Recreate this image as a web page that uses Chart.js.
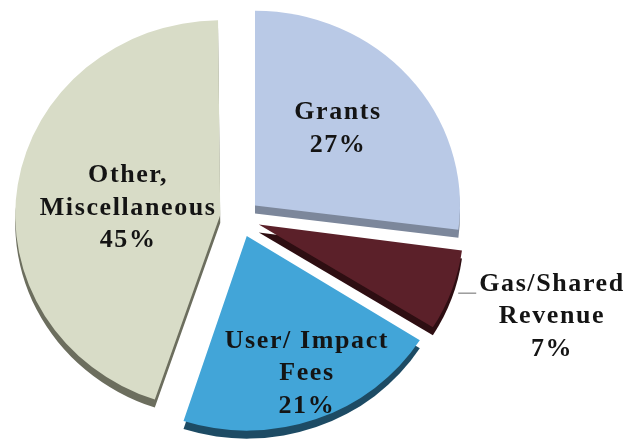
<!DOCTYPE html>
<html>
<head>
<meta charset="utf-8">
<script src="https://cdn.jsdelivr.net/npm/chart.js@4.4.1/dist/chart.umd.min.js"></script>
<style>
  html, body { margin: 0; padding: 0; background: #fff; }
  #wrap { width: 631px; height: 446px; position: relative; }
</style>
</head>
<body>
<div id="wrap"><canvas id="myChart"></canvas></div>
<script>
// slices, clockwise from 12 o'clock
const categories = ['Grants', 'Gas/Shared Revenue', 'User/ Impact Fees', 'Other, Miscellaneous'];
const shares = [27, 7, 21, 45];
const labelLines = [['Grants'], ['Gas/Shared', 'Revenue'], ['User/ Impact', 'Fees'], ['Other,', 'Miscellaneous']];

const topColors = ['#b9c9e6', '#5b2029', '#42a5d8', '#d8dcc7'];
const sideColors = ['#7c879b', '#2e0e12', '#1d4b64', '#6c6e5e'];

// label placement: fraction of radius along the slice middle, then a nudge
const labelFrac = [0.54, 1.52, 0.866, 0.455];
const labelNudge = [[0, -7], [0, -8], [0, -21], [0, 7]];

const RADIUS = 205;
const SQUASH = 0.95;   // tilt of the 3d pie
const DEPTH = 8;       // thickness in px
const EXPLODE = 80;    // chart.js divides arc offset by 4

function centre(chart) {
    const a = chart.chartArea;
    return [(a.left + a.right) / 2, (a.top + a.bottom) / 2];
}

const pie3d = {
    id: 'pie3d',
    afterDatasetUpdate(chart) {
        // arcs narrower than 180deg get their radius pushed out by the offset, undo that
        chart.getDatasetMeta(0).data.forEach(arc => {
            const off = (arc.options.offset || 0) / 4;
            const fix = 1 - Math.sin(Math.min(Math.PI, arc.circumference));
            arc.outerRadius = RADIUS - off * fix;
        });
    },
    beforeDatasetsDraw(chart) {
        const ctx = chart.ctx;
        const [cx, cy] = centre(chart);
        ctx.save();
        ctx.translate(cx, cy);
        ctx.scale(1, SQUASH);
        ctx.translate(-cx, -cy);
        chart.getDatasetMeta(0).data.forEach((arc, i) => {
            const off = (arc.options.offset || 0) / 4;
            const fix = 1 - Math.sin(Math.min(Math.PI, arc.circumference));
            const radOff = off * fix;
            const r = arc.outerRadius + radOff;
            const alpha = arc.endAngle - arc.startAngle;
            const beta = Math.max(0.001, alpha * r - radOff / Math.PI) / r;
            const ao = (alpha - beta) / 2;
            const mid = (arc.startAngle + arc.endAngle) / 2;
            const x = arc.x + Math.cos(mid) * off;
            const y = arc.y + Math.sin(mid) * off + DEPTH / SQUASH;
            ctx.fillStyle = sideColors[i];
            ctx.beginPath();
            ctx.moveTo(x, y);
            ctx.arc(x, y, r, arc.startAngle + ao, arc.endAngle - ao);
            ctx.closePath();
            ctx.fill();
        });
    },
    afterDatasetsDraw(chart) {
        const ctx = chart.ctx;
        ctx.restore();
        const [cx, cy] = centre(chart);
        ctx.save();
        ctx.font = 'bold 26px "Liberation Serif", serif';
        ctx.letterSpacing = '1.6px';
        ctx.fillStyle = '#141414';
        ctx.textAlign = 'center';
        ctx.textBaseline = 'middle';
        const lh = 32.5;
        chart.getDatasetMeta(0).data.forEach((arc, i) => {
            const off = (arc.options.offset || 0) / 4;
            const mid = (arc.startAngle + arc.endAngle) / 2;
            const d = off + RADIUS * labelFrac[i];
            const ux = arc.x + Math.cos(mid) * d;
            const uy = arc.y + Math.sin(mid) * d;
            const x = ux + labelNudge[i][0];
            const y = cy + (uy - cy) * SQUASH + labelNudge[i][1];
            const lines = labelLines[i].concat([shares[i] + '%']);
            const top = y - (lines.length - 1) * lh / 2;
            lines.forEach((t, k) => ctx.fillText(t, x, top + k * lh));
            if (labelFrac[i] > 1) {
                // leader line for the outside label
                const w = ctx.measureText(lines[0]).width;
                const lx = x - w / 2 - 3;
                ctx.strokeStyle = '#9a9a9a';
                ctx.lineWidth = 1.5;
                ctx.beginPath();
                ctx.moveTo(lx, top + 9);
                ctx.lineTo(lx - 18, top + 9);
                ctx.stroke();
            }
        });
        ctx.restore();
    }
};

const data = {
    labels: categories,
    datasets: [{
        data: shares,
        backgroundColor: topColors,
        borderWidth: 0,
        offset: EXPLODE,
        hoverOffset: 0
    }]
};

const config = {
    type: 'pie',
    data: data,
    options: {
        responsive: true,
        maintainAspectRatio: false,
        animation: false,
        radius: RADIUS,
        layout: {
            padding: { left: 0, right: 151, top: 0, bottom: 10 }
        },
        plugins: {
            legend: { display: false },
            tooltip: { enabled: false }
        },
        events: []
    },
    plugins: [pie3d]
};

var myChart = new Chart(document.getElementById('myChart'), config);
</script>
</body>
</html>
